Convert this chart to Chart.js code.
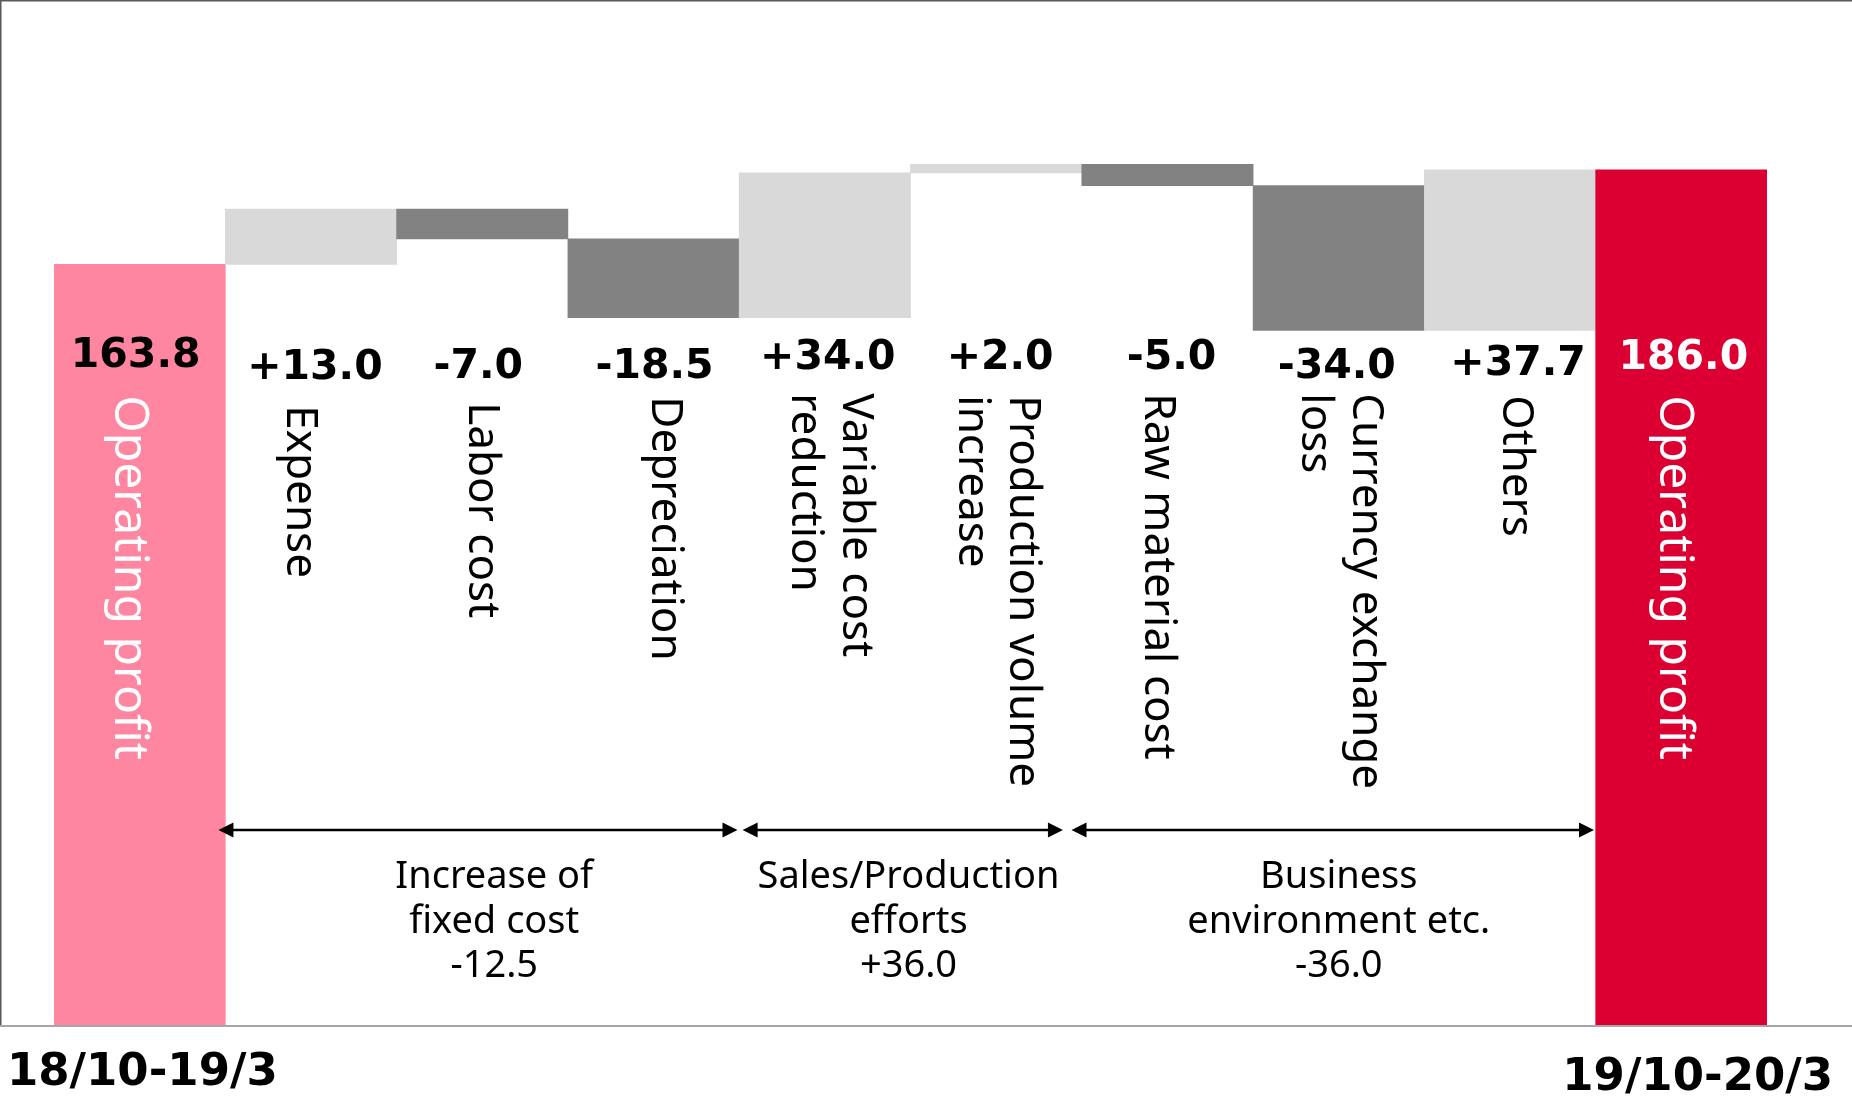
<!DOCTYPE html>
<html>
<head>
<meta charset="utf-8">
<title>Operating profit bridge</title>
<script src="https://cdn.jsdelivr.net/npm/chart.js@4.4.1/dist/chart.umd.min.js"></script>
<style>
    html, body { margin: 0; padding: 0; background: #fff; }
    #wrap { width: 1852px; height: 1097px; }
</style>
</head>
<body>
<div id="wrap"><canvas id="bridge" width="1852" height="1097"></canvas></div>
<script>
// 期間ごとの営業利益
const periods = ['18/10-19/3', '19/10-20/3'];
const startTotal = 163.8;
const endTotal = 186.0;

// 増減要因
const factorNames = [
    ['Expense'],
    ['Labor cost'],
    ['Depreciation'],
    ['Variable cost', 'reduction'],
    ['Production volume', 'increase'],
    ['Raw material cost'],
    ['Currency exchange', 'loss'],
    ['Others']
];
const factorValues = [13.0, -7.0, -18.5, 34.0, 2.0, -5.0, -34.0, 37.7];

// 要因グループ
const groupNames = [
    ['Increase of', 'fixed cost'],
    ['Sales/Production', 'efforts'],
    ['Business', 'environment etc.']
];
const groupValues = [-12.5, 36.0, -36.0];
const groupFirst = [0, 3, 5];
const groupLast = [2, 4, 7];

// 縦軸の範囲（下端は途中で切っている）
const yMin = -14.8;
const yMax = 225.9;

// レイアウト微調整（px）
const valueDy = [-1, 11, 10, 10, 1, 1, 1, 10, 7, 1];
const valueDx = [-4, 4, -4, 1, 3, 4, 4, -2, 8, 2];
const textBaseDx = [-25, -24, -13, -2, 18, 14, -22, 14, -7, -21];
const textDy = [3, 13, 10, 4, 1, 3, 1, 1, 3, 3];
const captionDx = [12, -2, 0];
const arrowFrom = [0.46, 3.52, 5.44];
const arrowTo = [3.49, 5.39, 8.49];

const COLOR_START = '#FF86A1';
const COLOR_END = '#DC0032';
const COLOR_UP = '#D9D9D9';
const COLOR_DOWN = '#828282';

// ウォーターフォール用の浮動バーを組み立てる
const barLabels = [];
const bars = [];
const barColors = [];
const valueTexts = [];
const barTexts = [];

barLabels.push(periods[0]);
bars.push([yMin, startTotal]);
barColors.push(COLOR_START);
valueTexts.push(startTotal.toFixed(1));
barTexts.push(['Operating profit']);

let level = startTotal;
factorValues.forEach((v, i) => {
    const next = Math.round((level + v) * 10) / 10;
    barLabels.push(factorNames[i].join(' '));
    bars.push([level, next]);
    barColors.push(v >= 0 ? COLOR_UP : COLOR_DOWN);
    valueTexts.push((v >= 0 ? '+' : '') + v.toFixed(1));
    barTexts.push(factorNames[i]);
    level = next;
});

barLabels.push(periods[1]);
bars.push([yMin, endTotal]);
barColors.push(COLOR_END);
valueTexts.push(endTotal.toFixed(1));
barTexts.push(['Operating profit']);

// 枠線
const framePlugin = {
    id: 'frame',
    beforeDraw(chart) {
        const ctx = chart.ctx;
        const bottom = chart.chartArea.bottom;
        ctx.save();
        ctx.fillStyle = '#fff';
        ctx.fillRect(0, 0, chart.width, chart.height);
        ctx.strokeStyle = '#595959';
        ctx.lineWidth = 1.5;
        ctx.beginPath();
        ctx.moveTo(0, 0.75);
        ctx.lineTo(chart.width, 0.75);
        ctx.moveTo(0.75, 0);
        ctx.lineTo(0.75, bottom);
        ctx.stroke();
        ctx.strokeStyle = '#A6A6A6';
        ctx.lineWidth = 2;
        ctx.beginPath();
        ctx.moveTo(0, bottom + 1);
        ctx.lineTo(chart.width, bottom + 1);
        ctx.stroke();
        ctx.restore();
    }
};

function drawArrowHead(ctx, x, y, dir) {
    ctx.beginPath();
    ctx.moveTo(x, y);
    ctx.lineTo(x - dir * 15, y - 7.5);
    ctx.lineTo(x - dir * 15, y + 7.5);
    ctx.closePath();
    ctx.fill();
}

// 数値・項目名・グループ注記
const labelPlugin = {
    id: 'bridgeLabels',
    afterDatasetsDraw(chart) {
        const ctx = chart.ctx;
        const xs = chart.scales.x;
        const ys = chart.scales.y;
        const area = chart.chartArea;
        const valueY = ys.getPixelForValue(142);
        const last = bars.length - 1;

        ctx.save();

        // 数値ラベル
        ctx.font = 'bold 41px "DejaVu Sans"';
        ctx.textAlign = 'center';
        ctx.textBaseline = 'middle';
        valueTexts.forEach((t, i) => {
            ctx.fillStyle = i === last ? '#fff' : '#000';
            ctx.fillText(t, xs.getPixelForValue(i) + valueDx[i], valueY + valueDy[i]);
        });

        // 縦書きの項目名
        ctx.textAlign = 'left';
        ctx.textBaseline = 'alphabetic';
        barTexts.forEach((lines, i) => {
            const total = i === 0 || i === last;
            ctx.font = (total ? '48px' : '44px') + ' "Noto Sans"';
            ctx.fillStyle = total ? '#fff' : '#000';
            const cx = xs.getPixelForValue(i);
            lines.forEach((line, k) => {
                ctx.save();
                ctx.translate(cx + textBaseDx[i] - k * 51, valueY + 35 + textDy[i]);
                ctx.rotate(Math.PI / 2);
                ctx.fillText(line, 0, 0);
                ctx.restore();
            });
        });

        // グループの矢印と注記
        const arrowY = area.bottom - 195;
        ctx.strokeStyle = '#000';
        ctx.fillStyle = '#000';
        ctx.lineWidth = 2.5;
        groupNames.forEach((names, g) => {
            const x1 = xs.getPixelForValue(arrowFrom[g]);
            const x2 = xs.getPixelForValue(arrowTo[g]);
            ctx.beginPath();
            ctx.moveTo(x1 + 10, arrowY);
            ctx.lineTo(x2 - 10, arrowY);
            ctx.stroke();
            drawArrowHead(ctx, x1, arrowY, -1);
            drawArrowHead(ctx, x2, arrowY, 1);

            const mid = xs.getPixelForValue((groupFirst[g] + groupLast[g]) / 2 + 1) + captionDx[g];
            const v = groupValues[g];
            const lines = names.concat([(v >= 0 ? '+' : '') + v.toFixed(1)]);
            ctx.font = '38px "Noto Sans"';
            ctx.textAlign = 'center';
            ctx.textBaseline = 'alphabetic';
            lines.forEach((line, k) => {
                ctx.fillText(line, mid, area.bottom - 137 + k * 44.5);
            });
        });

        // 期間ラベル
        ctx.font = 'bold 45px "DejaVu Sans"';
        ctx.textAlign = 'left';
        ctx.fillText(periods[0], 7, area.bottom + 60);
        ctx.textAlign = 'right';
        ctx.fillText(periods[1], 1833, area.bottom + 65);

        ctx.restore();
    }
};

new Chart(document.getElementById('bridge'), {
    type: 'bar',
    data: {
        labels: barLabels,
        datasets: [{
            data: bars,
            backgroundColor: barColors,
            borderWidth: 0,
            barPercentage: 1,
            categoryPercentage: 1
        }]
    },
    options: {
        responsive: false,
        animation: false,
        layout: {
            padding: { left: 54, right: 85, top: 0, bottom: 72 }
        },
        scales: {
            x: { display: false },
            y: { display: false, min: yMin, max: yMax }
        },
        plugins: {
            legend: { display: false },
            tooltip: { enabled: false }
        }
    },
    plugins: [framePlugin, labelPlugin]
});
</script>
</body>
</html>
